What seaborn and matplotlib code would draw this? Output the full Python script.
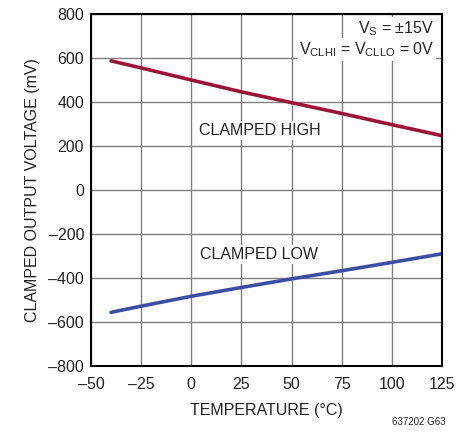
import numpy as np
import pandas as pd
import seaborn as sns
import matplotlib.pyplot as plt

temps = [-40, -25, 0, 25, 50, 75, 100, 125]
clamped_high = [587, 555, 500, 446, 397, 348, 297, 247]
clamped_low = [-556, -528, -483, -443, -404, -367, -329, -290]
x_ticks = [-50, -25, 0, 25, 50, 75, 100, 125]
y_ticks = [-800, -600, -400, -200, 0, 200, 400, 600, 800]

df = pd.DataFrame({
    "temp": temps * 2,
    "mv": clamped_high + clamped_low,
    "curve": ["high"] * len(temps) + ["low"] * len(temps),
})

sns.set_style("white")
plt.rcParams['font.family'] = ['Liberation Sans Narrow', 'Liberation Sans', 'DejaVu Sans']

fs = 11.5
fig = plt.figure(figsize=(4.77, 4.34), dpi=100)
ax = fig.add_axes([0.1908, 0.1567, 0.7358, 0.811])

sns.lineplot(data=df, x="temp", y="mv", hue="curve",
             palette={"high": "#9b1438", "low": "#3a4fa3"},
             linewidth=2.6, legend=False, ax=ax)

ax.set_xlim(-50, 125)
ax.set_ylim(-800, 800)
ax.set_xticks(x_ticks)
ax.set_yticks(y_ticks)
ax.set_xticklabels([str(t).replace('-', '\u2013') for t in x_ticks])
ax.set_yticklabels([str(t).replace('-', '\u2013') for t in y_ticks])
ax.grid(True, color="#808080", linewidth=1.0)
ax.set_axisbelow(True)
ax.tick_params(axis="x", length=0, labelsize=fs, pad=8, colors="#222222")
ax.tick_params(axis="y", length=0, labelsize=fs, pad=5, colors="#222222")
for s in ax.spines.values():
    s.set_color("black")
    s.set_linewidth(1.5)

ax.set_xlabel("TEMPERATURE (°C)", fontsize=fs, color="#222222", labelpad=8)
ax.set_ylabel("CLAMPED OUTPUT VOLTAGE (mV)", fontsize=fs, color="#222222", labelpad=6)

box = dict(facecolor="white", edgecolor="none", pad=1.5)
ax.text(34, 272, "CLAMPED HIGH", ha="center", va="center", fontsize=fs,
        color="#222222", bbox=box, zorder=3)
ax.text(34, -295, "CLAMPED LOW", ha="center", va="center", fontsize=fs,
        color="#222222", bbox=box, zorder=3)
ax.text(121, 735, "V$_\\mathregular{S}$ = ±15V", ha="right", va="center",
        fontsize=fs, color="#222222", bbox=box, zorder=3)
ax.text(121, 640, "V$_\\mathregular{CLHI}$ = V$_\\mathregular{CLLO}$ = 0V", ha="right",
        va="center", fontsize=fs, color="#222222", bbox=box, zorder=3)

fig.text(0.935, 0.015, "637202 G63", ha="right", va="bottom", fontsize=7, color="#222222")

fig.savefig("out.png", dpi=100)
